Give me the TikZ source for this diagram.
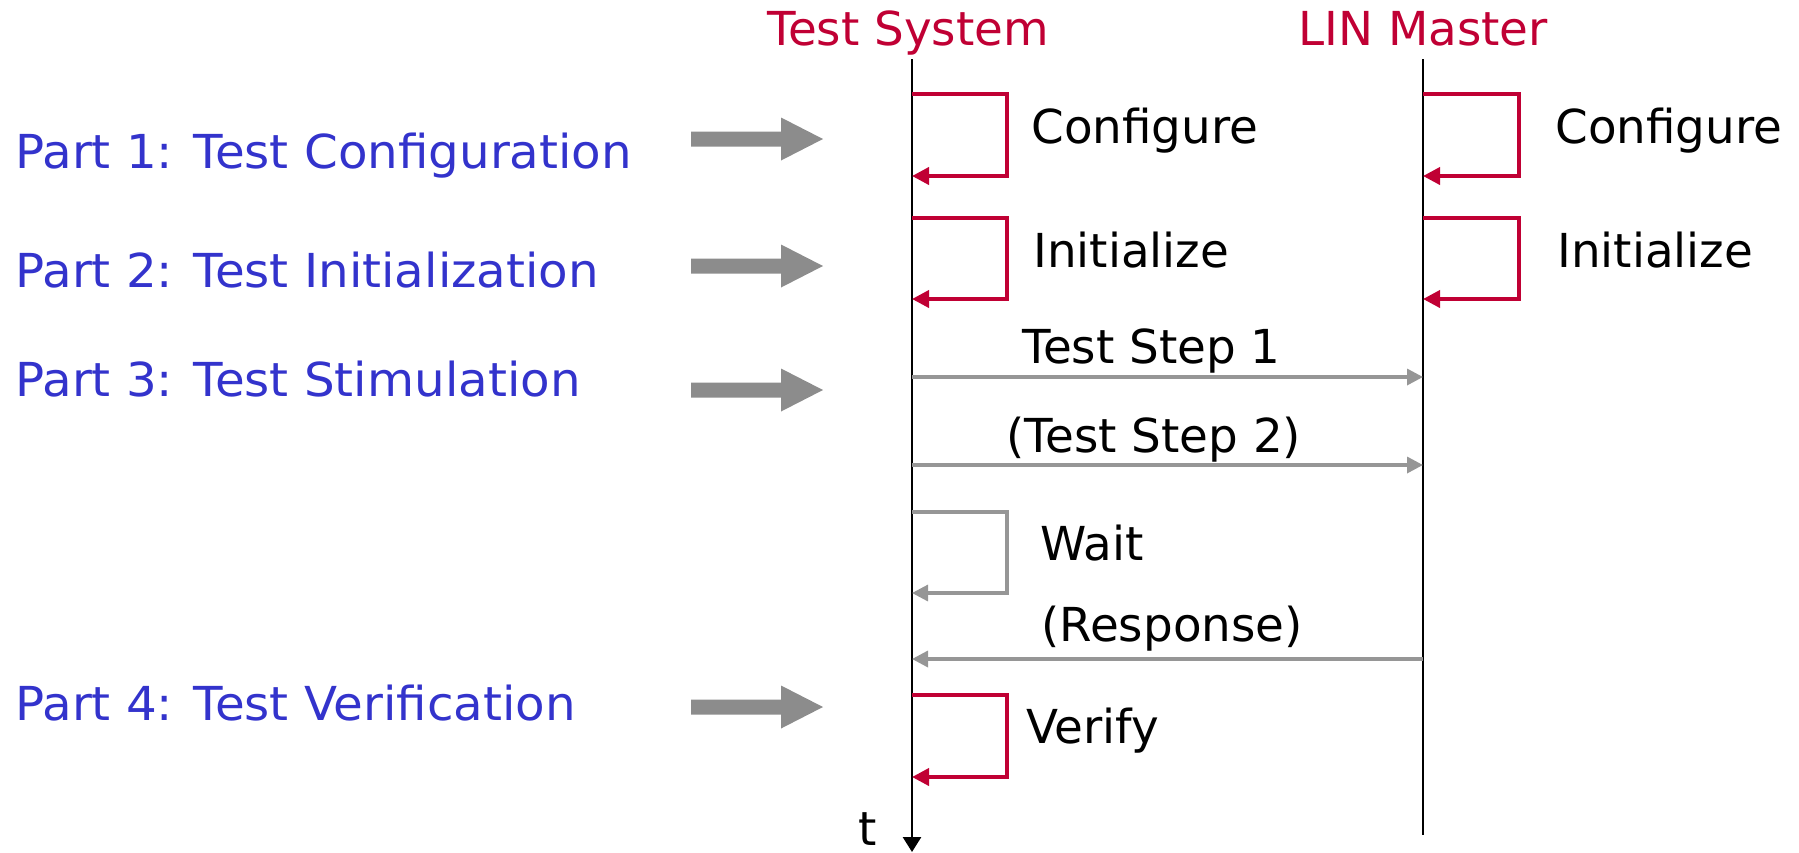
\documentclass[tikz,border=0pt]{standalone}
\usepackage{fontspec}
\setmainfont{DejaVu Sans}
\newfontfamily\partfont[FakeStretch=1.033]{DejaVu Sans}
\usetikzlibrary{arrows.meta}
\definecolor{crimson}{RGB}{192,0,52}
\definecolor{partblue}{RGB}{51,51,204}
\definecolor{blockgrey}{RGB}{140,140,140}
\definecolor{msggrey}{RGB}{150,150,150}
\tikzset{
  txt/.style={inner sep=0pt, anchor=base west, font=\fontsize{23.4}{28}\selectfont},
  title/.style={txt, text=crimson},
  part/.style={txt, text=partblue, font=\partfont\fontsize{23.4}{28}\selectfont},
  lifeline/.style={draw=black, line width=1.35pt},
  redloop/.style={draw=crimson, line width=1.9pt, -{Triangle[length=8.5pt,width=8.5pt]}},
  greyloop/.style={draw=msggrey, line width=1.6pt, -{Triangle[length=8pt,width=8pt]}},
  msg/.style={draw=msggrey, line width=1.7pt, -{Triangle[length=8pt,width=8pt]}},
  blockarrow/.style={fill=blockgrey, draw=none}
}
\newcommand\blkarrow[2]{%
  \fill[blockarrow] (691,#1-7.5) -- (781,#1-7.5) -- (781,#1-21.5) -- (823,#1)
    -- (781,#1+21.5) -- (781,#1+7.5) -- (691,#1+7.5) -- cycle;
  \coordinate (#2) at (823,#1);}
\begin{document}
\begin{tikzpicture}[x=0.5pt,y=-0.5pt]
\useasboundingbox (0,0) rectangle (1799,852);
% titles
\node[title] (tsys) at (767,45) {Test System};
\node[title] (lin) at (1298,45) {LIN Master};
% lifelines
\coordinate (tstop) at (912,59);
\coordinate (tsbot) at (912,852);
\coordinate (lintop) at (1423,59);
\coordinate (linbot) at (1423,835);
\draw[lifeline, -{Triangle[length=7.5pt,width=9pt]}] (tstop) -- (tsbot);
\draw[lifeline] (lintop) -- (linbot);
\node[txt] (t) at (858,845) {t};
% part labels
\node[part] (p1) at (15,168) {Part 1: Test Configuration};
\node[part] (p2) at (15,287) {Part 2: Test Initialization};
\node[part] (p3) at (15,396) {Part 3: Test Stimulation};
\node[part] (p4) at (15,720) {Part 4: Test Verification};
\blkarrow{139}{a1}
\blkarrow{266}{a2}
\blkarrow{390}{a3}
\blkarrow{707}{a4}
% configure
\draw[redloop] (912,94) -- (1007,94) -- (1007,176) -- (912,176);
\node[txt] (cfg1) at (1031,143) {Configure};
\draw[redloop] (1423,94) -- (1519,94) -- (1519,176) -- (1423,176);
\node[txt] (cfg2) at (1555,143) {Configure};
% initialize
\draw[redloop] (912,218) -- (1007,218) -- (1007,299) -- (912,299);
\node[txt] (ini1) at (1033,267) {Initialize};
\draw[redloop] (1423,218) -- (1519,218) -- (1519,299) -- (1423,299);
\node[txt] (ini2) at (1557,267) {Initialize};
% test steps
\draw[msg] (912,377) -- (1423,377);
\node[txt] (ts1) at (1022,363) {Test Step 1};
\draw[msg] (912,465) -- (1423,465);
\node[txt] (ts2) at (1006,452) {(Test Step 2)};
% wait
\draw[greyloop] (912,512) -- (1007,512) -- (1007,593) -- (912,593);
\node[txt] (wait) at (1040,560) {Wait};
% response
\draw[msg] (1423,659) -- (912,659);
\node[txt] (resp) at (1041,641) {(Response)};
% verify
\draw[redloop] (912,695) -- (1007,695) -- (1007,777) -- (912,777);
\node[txt] (ver) at (1026,743) {Verify};
\end{tikzpicture}
\end{document}
